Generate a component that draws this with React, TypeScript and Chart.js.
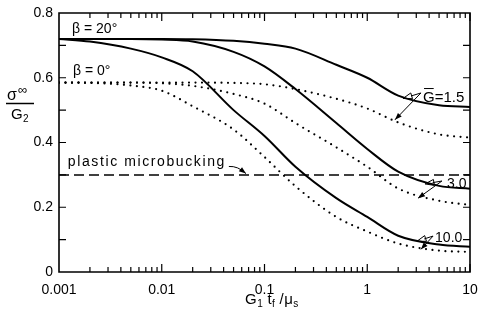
import { useEffect, useRef } from 'react';
import { Chart, registerables } from 'chart.js';

Chart.register(...registerables);

// ---- data ----
const xValues = [0.001, 0.002, 0.005, 0.01, 0.02, 0.05, 0.1, 0.2, 0.5, 1, 2, 5, 10];
// beta = 20 deg (solid)
const beta20G15 = [0.72, 0.72, 0.72, 0.72, 0.719, 0.714, 0.705, 0.69, 0.64, 0.6, 0.545, 0.515, 0.51];
const beta20G30 = [0.72, 0.72, 0.72, 0.718, 0.712, 0.68, 0.635, 0.565, 0.46, 0.38, 0.31, 0.266, 0.257];
const beta20G100 = [0.72, 0.712, 0.69, 0.663, 0.62, 0.5, 0.42, 0.325, 0.228, 0.17, 0.112, 0.085, 0.078];
// beta = 0 deg (dotted)
const beta0G15 = [0.585, 0.585, 0.585, 0.585, 0.585, 0.584, 0.58, 0.565, 0.535, 0.505, 0.462, 0.425, 0.415];
const beta0G30 = [0.585, 0.585, 0.585, 0.583, 0.575, 0.55, 0.52, 0.46, 0.385, 0.325, 0.258, 0.22, 0.207];
const beta0G100 = [0.585, 0.584, 0.576, 0.56, 0.512, 0.44, 0.355, 0.265, 0.17, 0.125, 0.088, 0.066, 0.062];
// plastic microbuckling level
const microX = [0.001, 10];
const microY = [0.3, 0.3];

const xTickValues = [0.001, 0.01, 0.1, 1, 10];
const xTickLabels = ['0.001', '0.01', '0.1', '1', '10'];
const yTickValues = [0, 0.2, 0.4, 0.6, 0.8];
const yTickLabels = ['0', '0.2', '0.4', '0.6', '0.8'];

const FONT = '"Liberation Sans", Arial, sans-serif';

const pts = (xs: number[], ys: number[]) => xs.map((x, i) => ({ x, y: ys[i] }));

function arrowHead(ctx: CanvasRenderingContext2D, fx: number, fy: number, tx: number, ty: number, filled: boolean) {
  const ang = Math.atan2(ty - fy, tx - fx);
  const len = filled ? 7 : 9;
  const hw = filled ? 2.6 : 3;
  const bx = tx - len * Math.cos(ang);
  const by = ty - len * Math.sin(ang);
  const nx = -Math.sin(ang) * hw;
  const ny = Math.cos(ang) * hw;
  ctx.beginPath();
  ctx.moveTo(tx, ty);
  ctx.lineTo(bx + nx, by + ny);
  ctx.lineTo(bx - nx, by - ny);
  ctx.closePath();
  if (filled) ctx.fill();
  else ctx.stroke();
}

const decorPlugin = {
  id: 'decor',
  afterDraw(chart: any) {
    const ctx: CanvasRenderingContext2D = chart.ctx;
    const xs = chart.scales.x;
    const ys = chart.scales.y;
    const px = (v: number) => xs.getPixelForValue(v);
    const py = (v: number) => ys.getPixelForValue(v);
    const L = px(0.001), R = px(10), T = py(0.8), B = py(0);
    ctx.save();
    ctx.setLineDash([]);
    ctx.lineCap = 'butt';
    ctx.strokeStyle = '#000';
    ctx.fillStyle = '#000';

    // frame
    ctx.lineWidth = 1.6;
    ctx.beginPath();
    ctx.moveTo(L, T);
    ctx.lineTo(R, T);
    ctx.lineTo(R, B);
    ctx.lineTo(L, B);
    ctx.closePath();
    ctx.stroke();

    // x ticks (inside, bottom and top)
    ctx.lineWidth = 1.2;
    ctx.beginPath();
    for (const d of [0.001, 0.01, 0.1, 1]) {
      for (let k = 2; k <= 10; k++) {
        const x = px(k * d);
        const len = k === 10 ? 8 : 5;
        ctx.moveTo(x, B);
        ctx.lineTo(x, B - len);
        ctx.moveTo(x, T);
        ctx.lineTo(x, T + len);
      }
    }
    // y ticks (inside, left and right)
    for (let i = 1; i < 8; i++) {
      const y = py(i / 10);
      ctx.moveTo(L, y);
      ctx.lineTo(L + 7, y);
      ctx.moveTo(R, y);
      ctx.lineTo(R - 7, y);
    }
    ctx.stroke();

    // annotations
    ctx.textBaseline = 'alphabetic';
    ctx.textAlign = 'left';
    ctx.font = `14px ${FONT}`;
    ctx.fillText('β = 20°', px(0.00134), py(0.738));
    ctx.fillText('β = 0°', px(0.00137), py(0.608));

    ctx.save();
    (ctx as any).letterSpacing = '1.6px';
    ctx.fillText('plastic microbucking', px(0.00122), py(0.327));
    ctx.restore();

    ctx.lineWidth = 1;
    // microbuckling arrow
    {
      const fx = px(0.045), fy = py(0.326);
      const tx = px(0.066), ty = py(0.304);
      ctx.beginPath();
      ctx.moveTo(fx, fy);
      ctx.quadraticCurveTo(px(0.055), py(0.328), tx, ty);
      ctx.stroke();
      arrowHead(ctx, px(0.058), py(0.318), tx, ty, true);
    }

    // G = 1.5 label (G with overbar)
    ctx.font = `15px ${FONT}`;
    const gx = px(3.49), gy = py(0.525);
    ctx.fillText('G=1.5', gx, gy);
    const gw = ctx.measureText('G').width;
    ctx.beginPath();
    ctx.moveTo(gx + 1, gy - 13.5);
    ctx.lineTo(gx + gw - 1, gy - 13.5);
    ctx.stroke();

    const leaders: number[][] = [
      // fromX, fromY, solidX, solidY, dottedX, dottedY
      [3.33, 0.553, 2.23, 0.536, 1.86, 0.47],
      [5.33, 0.281, 3.65, 0.272, 3.12, 0.228],
      [4.37, 0.111, 3.05, 0.095, 3.33, 0.07],
    ];
    for (const [fxv, fyv, sxv, syv, dxv, dyv] of leaders) {
      const fx = px(fxv), fy = py(fyv);
      const sx = px(sxv), sy = py(syv);
      const dx = px(dxv), dy = py(dyv);
      ctx.beginPath();
      ctx.moveTo(fx, fy);
      ctx.lineTo(sx + (fx - sx) * 0.45, sy + (fy - sy) * 0.45);
      ctx.stroke();
      arrowHead(ctx, fx, fy, sx, sy, false);
      ctx.beginPath();
      ctx.moveTo(fx, fy);
      ctx.lineTo(dx, dy);
      ctx.stroke();
      arrowHead(ctx, fx, fy, dx, dy, true);
    }

    ctx.font = `14px ${FONT}`;
    ctx.fillText('3.0', px(5.97), py(0.259));
    ctx.fillText('10.0', px(4.57), py(0.093));

    // y axis title: sigma^inf / G_2
    ctx.font = `16px ${FONT}`;
    ctx.fillText('σ', 7, 100);
    ctx.font = `13px ${FONT}`;
    ctx.fillText('∞', 18, 94);
    ctx.lineWidth = 1.5;
    ctx.beginPath();
    ctx.moveTo(6, 103.5);
    ctx.lineTo(34, 103.5);
    ctx.stroke();
    ctx.font = `15px ${FONT}`;
    ctx.fillText('G', 11, 119);
    ctx.font = `10px ${FONT}`;
    ctx.fillText('2', 23, 122);

    // x axis title: G_1 t_f / mu_s
    const segs: [string, boolean][] = [['G', false], ['1', true], [' t', false], ['f', true], [' /', false], ['μ', false], ['s', true]];
    let cx = 245;
    const base = 304;
    for (const [t, sub] of segs) {
      ctx.font = sub ? `10px ${FONT}` : `15px ${FONT}`;
      ctx.fillText(t, cx, sub ? base + 3 : base);
      cx += ctx.measureText(t).width + 0.5;
    }
    ctx.restore();
  },
};

export default function App() {
  const ref = useRef<HTMLCanvasElement | null>(null);
  useEffect(() => {
    if (!ref.current) return;
    const solid = { borderColor: '#000', borderWidth: 2, pointRadius: 0, cubicInterpolationMode: 'monotone' as const, fill: false };
    const dotted = { ...solid, borderWidth: 2.2, borderDash: [0, 6.5], borderCapStyle: 'round' as const };
    const chart = new Chart(ref.current, {
      type: 'line',
      data: {
        datasets: [
          { ...solid, data: pts(xValues, beta20G15) },
          { ...solid, data: pts(xValues, beta20G30) },
          { ...solid, data: pts(xValues, beta20G100) },
          { ...dotted, data: pts(xValues, beta0G15) },
          { ...dotted, data: pts(xValues, beta0G30) },
          { ...dotted, data: pts(xValues, beta0G100) },
          { borderColor: '#000', borderWidth: 1.5, borderDash: [10, 5], pointRadius: 0, data: pts(microX, microY) },
        ] as any,
      },
      options: {
        animation: false,
        responsive: false,
        maintainAspectRatio: false,
        layout: { padding: { top: 13, right: 8, left: 0, bottom: 0 } },
        plugins: { legend: { display: false }, tooltip: { enabled: false } },
        elements: { point: { radius: 0 } },
        scales: {
          x: {
            type: 'logarithmic',
            min: 0.001,
            max: 10,
            grid: { display: false, drawTicks: false },
            border: { display: false },
            ticks: {
              autoSkip: false,
              maxRotation: 0,
              minRotation: 0,
              padding: 10,
              color: '#000',
              font: { size: 14, family: FONT },
              callback: (v: any) => {
                const i = xTickValues.findIndex((t) => Math.abs(Math.log10(t) - Math.log10(Number(v))) < 1e-6);
                return i >= 0 ? xTickLabels[i] : '';
              },
            },
            afterBuildTicks: (s: any) => {
              s.ticks = xTickValues.map((v) => ({ value: v }));
            },
            afterFit: (s: any) => {
              s.height = 55;
              s.paddingLeft = 0;
              s.paddingRight = 0;
            },
          },
          y: {
            min: 0,
            max: 0.8,
            grid: { display: false, drawTicks: false },
            border: { display: false },
            ticks: {
              padding: 6,
              color: '#000',
              font: { size: 14, family: FONT },
              callback: (v: any) => {
                const i = yTickValues.findIndex((t) => Math.abs(t - Number(v)) < 1e-6);
                return i >= 0 ? yTickLabels[i] : '';
              },
            },
            afterBuildTicks: (s: any) => {
              s.ticks = yTickValues.map((v) => ({ value: v }));
            },
            afterFit: (s: any) => {
              s.width = 59;
              s.paddingTop = 0;
              s.paddingBottom = 0;
            },
          },
        },
      } as any,
      plugins: [decorPlugin],
    });
    return () => chart.destroy();
  }, []);
  return (
    <div style={{ position: 'fixed', left: 0, top: 0, width: 478, height: 327, background: '#fff' }}>
      <canvas ref={ref} width={478} height={327} style={{ width: 478, height: 327, display: 'block' }} />
    </div>
  );
}
